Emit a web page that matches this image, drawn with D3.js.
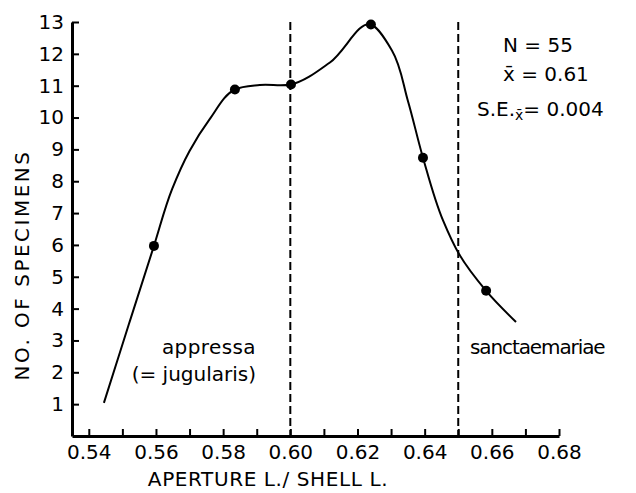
<!DOCTYPE html>
<html>
<head>
<meta charset="utf-8">
<script src="https://cdn.jsdelivr.net/npm/d3@7"></script>
<style>
  body { margin: 0; background: #fff; }
  text { font-family: "DejaVu Sans", sans-serif; fill: #000; }
</style>
</head>
<body>
<div id="chart"></div>
<script>
// sampled points (measured)
const ratioPts = [0.5594, 0.5835, 0.6002, 0.624, 0.6395, 0.6583];
const countPts = [5.97, 10.88, 11.04, 12.92, 8.74, 4.56];

// hand-drawn smooth curve
const curveX = [0.5445, 0.5519, 0.5594, 0.5648, 0.5700, 0.5760, 0.5835, 0.5909, 0.6002, 0.6118, 0.624, 0.6303, 0.635, 0.6395, 0.6455, 0.6502, 0.6583, 0.6672];
const curveY = [1.04, 3.5, 5.97, 7.75, 8.95, 9.95, 10.88, 11.02, 11.04, 11.73, 12.92, 12.1, 10.53, 8.74, 6.76, 5.72, 4.56, 3.58];

const xTicks = d3.range(54, 69).map(d => d / 100);
const yTicks = d3.range(1, 14);
const dividers = [0.60, 0.65];

const width = 636, height = 493;

const svg = d3.select('#chart')
    .append('svg')
    .attr('width', width)
    .attr('height', height);

const x = d3.scaleLinear().domain([0.535, 0.68]).range([72, 559]);
const y = d3.scaleLinear().domain([0, 13]).range([436, 22]);

// divider lines between the two forms
svg.selectAll('.divider')
    .data(dividers)
    .enter()
    .append('line')
    .attr('class', 'divider')
    .attr('x1', d => x(d)).attr('x2', d => x(d))
    .attr('y1', y(13)).attr('y2', y(0))
    .attr('stroke', '#000')
    .attr('stroke-width', 2)
    .attr('stroke-dasharray', '8,4');

// axes
const xAxis = svg.append('g')
    .attr('transform', `translate(0,${y(0)})`)
    .call(d3.axisBottom(x)
        .tickValues(xTicks)
        .tickSizeInner(-7)
        .tickSizeOuter(0)
        .tickPadding(9)
        .tickFormat(d => Math.round(d * 100) % 2 === 0 ? d.toFixed(2) : ''));

const yAxis = svg.append('g')
    .attr('transform', `translate(${x(0.535)},0)`)
    .call(d3.axisLeft(y)
        .tickValues(yTicks)
        .tickSizeInner(-7)
        .tickSizeOuter(0)
        .tickPadding(8));

[xAxis, yAxis].forEach(g => {
    g.select('.domain').attr('stroke', '#000').attr('stroke-width', 3);
    g.selectAll('.tick line').attr('stroke', '#000').attr('stroke-width', 2);
    g.selectAll('.tick text')
        .attr('font-size', 20)
        .attr('font-family', '"DejaVu Sans", sans-serif')
        .attr('fill', '#000');
});

// curve
const pts = curveX.map((d, i) => [d, curveY[i]]);
const line = d3.line()
    .x(d => x(d[0]))
    .y(d => y(d[1]))
    .curve(d3.curveCatmullRom.alpha(1));

svg.append('path')
    .attr('d', line(pts))
    .attr('fill', 'none')
    .attr('stroke', '#000')
    .attr('stroke-width', 2);

// dots
svg.selectAll('.dot')
    .data(ratioPts)
    .enter()
    .append('circle')
    .attr('class', 'dot')
    .attr('cx', d => x(d))
    .attr('cy', (d, i) => y(countPts[i]))
    .attr('r', 5)
    .attr('fill', '#000');

// axis titles
svg.append('text')
    .attr('transform', 'translate(29,265) rotate(-90)')
    .attr('text-anchor', 'middle')
    .attr('font-size', 20)
    .attr('letter-spacing', 2.5)
    .text('NO. OF SPECIMENS');

svg.append('text')
    .attr('x', 268).attr('y', 486)
    .attr('text-anchor', 'middle')
    .attr('font-size', 20)
    .attr('letter-spacing', 0.6)
    .text('APERTURE L./ SHELL L.');

// stats
svg.append('text').attr('x', 503).attr('y', 52).attr('font-size', 20).text('N = 55');
svg.append('text').attr('x', 503).attr('y', 81).attr('font-size', 20).text('x\u0304 = 0.61');
const se = svg.append('text').attr('x', 477).attr('y', 116).attr('font-size', 20);
se.append('tspan').text('S.E.');
se.append('tspan').attr('font-size', 14).attr('dy', 4).text('x\u0304');
se.append('tspan').attr('dy', -4).text('= 0.004');

// form labels
svg.append('text').attr('x', 256).attr('y', 354).attr('text-anchor', 'end')
    .attr('font-size', 20).attr('letter-spacing', 0.4).text('appressa');
svg.append('text').attr('x', 256).attr('y', 381).attr('text-anchor', 'end')
    .attr('font-size', 20).text('(= jugularis)');
svg.append('text').attr('x', 470).attr('y', 354)
    .attr('font-size', 20).attr('letter-spacing', -1.1).text('sanctaemariae');
</script>
</body>
</html>
